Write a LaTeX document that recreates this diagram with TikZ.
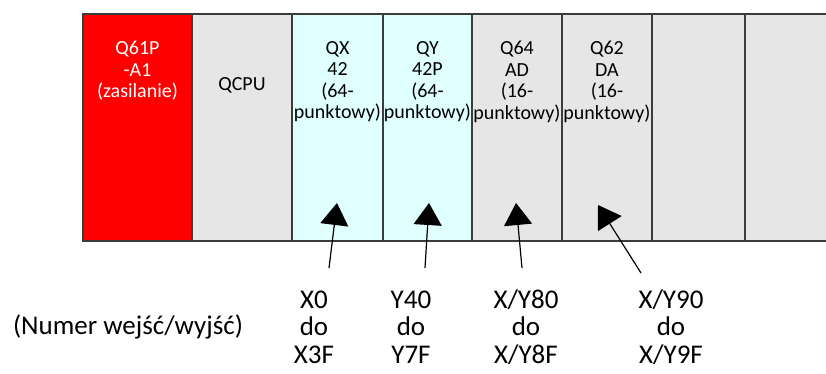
\documentclass[tikz,border=0pt]{standalone}
\usepackage{fontspec}
\setmainfont{Carlito}
\usetikzlibrary{arrows.meta,positioning}
\definecolor{psured}{HTML}{FF0000}
\definecolor{slotgray}{HTML}{E6E6E6}
\definecolor{iocyan}{HTML}{E0FFFF}
\definecolor{rackline}{HTML}{3C3C3C}
\begin{document}
\begin{tikzpicture}[x=1pt,y=-1pt,
  slot/.style={draw=rackline, line width=2pt, minimum height=227pt, inner sep=0pt, anchor=north west},
  slottext/.style={align=center, font=\fontsize{20}{21.5}\selectfont, inner sep=0pt},
  addr/.style={align=center, font=\fontsize{27}{27.5}\selectfont, inner sep=0pt},
  ioarrow/.style={-{Triangle[width=28pt,length=22pt]}, line width=1.2pt}]
\clip (0,0) rectangle (826,373);
% rack slots
\node[slot, fill=psured, minimum width=109pt] (psu) at (82,13) {};
\node[slot, fill=slotgray, minimum width=100pt] (cpu) at (191,13) {};
\node[slot, fill=iocyan, minimum width=91pt] (qx) at (291,13) {};
\node[slot, fill=iocyan, minimum width=89pt] (qy) at (382,13) {};
\node[slot, fill=slotgray, minimum width=90pt] (ad) at (471,13) {};
\node[slot, fill=slotgray, minimum width=90pt] (da) at (561,13) {};
\node[slot, fill=slotgray, minimum width=93pt] (free1) at (651,13) {};
\node[slot, fill=slotgray, minimum width=100pt] (free2) at (744,13) {};
% module names
\node[slottext, text=white, below=28pt of psu.north] (psuname) {Q61P\\-A1\\(zasilanie)};
\node[slottext, below=64pt of cpu.north] (cpuname) {QCPU};
\node[slottext, below=28pt of qx.north] (qxname) {QX\\42\\(64-\\punktowy)};
\node[slottext, below=28pt of qy.north] (qyname) {QY\\42P\\(64-\\punktowy)};
\node[slottext, below=28pt of ad.north] (adname) {Q64\\AD\\(16-\\punktowy)};
\node[slottext, below=28pt of da.north] (daname) {Q62\\DA\\(16-\\punktowy)};
% I/O numbers
\node[addr] (iolabel) at (128,327) {(Numer wejść/wyjść)};
\node[addr] (qxaddr) at (314,327) {X0\\do\\X3F};
\node[addr] (qyaddr) at (411,327) {Y40\\do\\Y7F};
\node[addr] (adaddr) at (526,327) {X/Y80\\do\\X/Y8F};
\node[addr] (daaddr) at (671,327) {X/Y90\\do\\X/Y9F};
% arrows
\coordinate (qxfrom) at (329,268);
\coordinate (qxto) at (337,203);
\coordinate (qyfrom) at (425,268);
\coordinate (qyto) at (429,203);
\coordinate (adfrom) at (522,268);
\coordinate (adto) at (516,203);
\coordinate (dafrom) at (641,273);
\coordinate (dato) at (598,205);
\draw[ioarrow] (qxfrom) -- (qxto);
\draw[ioarrow] (qyfrom) -- (qyto);
\draw[ioarrow] (adfrom) -- (adto);
\draw[ioarrow] (dafrom) -- (dato);
\end{tikzpicture}
\end{document}
